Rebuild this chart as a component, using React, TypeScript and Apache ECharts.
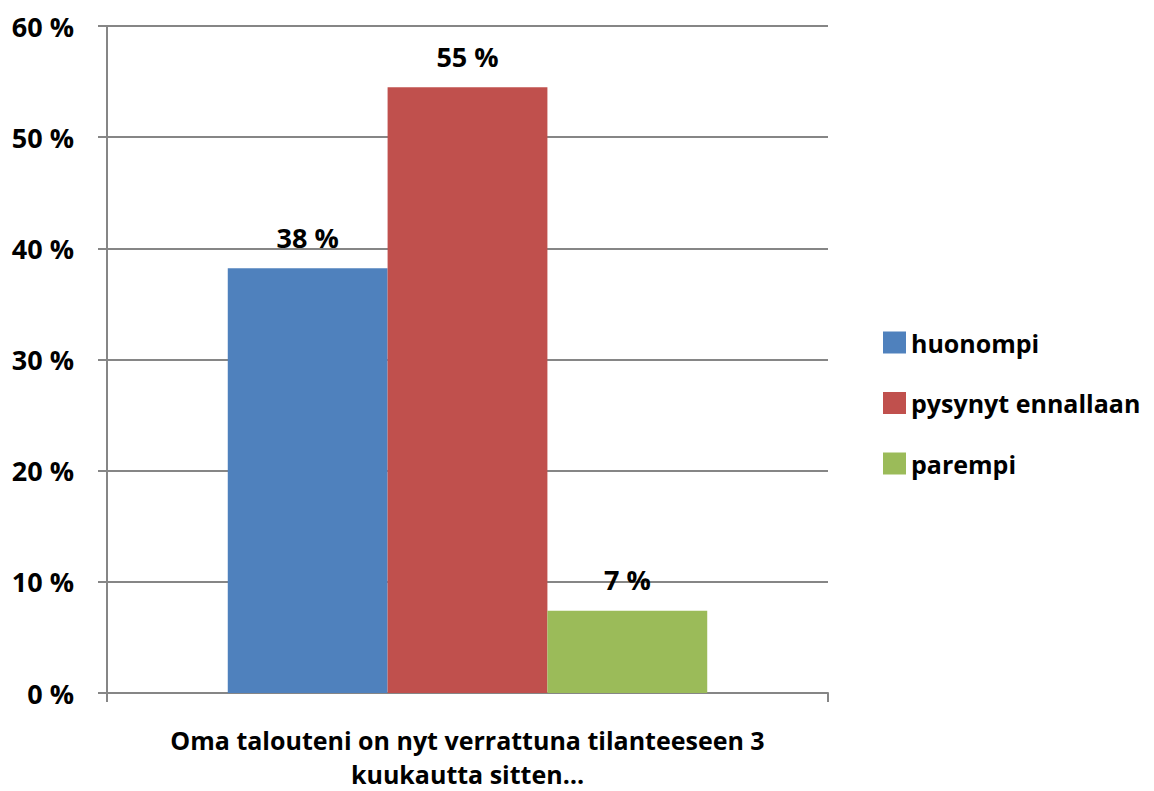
import React, { useEffect, useRef } from "react";
import * as echarts from "echarts";

const categories = ["Oma talouteni on nyt verrattuna tilanteeseen 3\nkuukautta sitten…"];
const seriesNames = ["huonompi", "pysynyt ennallaan", "parempi"];
const seriesValues = [[38.2], [54.5], [7.4]];
const seriesColors = ["#4F81BD", "#C0504D", "#9BBB59"];
const yTicks = { min: 0, max: 60, interval: 10 };

const FONT = "Open Sans";
const FS = 27;

export default function App() {
  const ref = useRef<HTMLDivElement>(null);
  useEffect(() => {
    if (!ref.current) return;
    const chart = echarts.init(ref.current, null, { renderer: "svg" });
    chart.setOption({
      animation: false,
      backgroundColor: "#ffffff",
      textStyle: { fontFamily: FONT },
      grid: { left: 107, right: 326, top: 26, bottom: 98, containLabel: false },
      legend: {
        orient: "vertical",
        left: 878,
        top: 325,
        itemWidth: 23,
        itemHeight: 22,
        itemGap: 35.5,
        icon: "rect",
        data: seriesNames,
        textStyle: { fontFamily: FONT, fontWeight: "bold", fontSize: 25, lineHeight: 22, color: "#000" },
      },
      xAxis: {
        type: "category",
        data: categories,
        axisLine: { lineStyle: { color: "#868686", width: 2 } },
        axisTick: { show: true, length: 9, lineStyle: { color: "#868686", width: 2 } },
        axisLabel: {
          fontFamily: FONT,
          fontWeight: "bold",
          fontSize: 25,
          color: "#000",
          lineHeight: 34,
          margin: 30,
          align: "center",
        },
      },
      yAxis: {
        type: "value",
        min: yTicks.min,
        max: yTicks.max,
        interval: yTicks.interval,
        axisLine: { show: true, lineStyle: { color: "#868686", width: 2 } },
        axisTick: { show: true, length: 9, lineStyle: { color: "#868686", width: 2 } },
        splitLine: { lineStyle: { color: "#868686", width: 2 } },
        axisLabel: {
          formatter: "{value} %",
          fontFamily: FONT,
          fontWeight: "bold",
          fontSize: FS,
          color: "#000",
          margin: 33,
        },
      },
      series: seriesNames.map((name, i) => ({
        name,
        type: "bar",
        data: seriesValues[i],
        barGap: "0%",
        barCategoryGap: "33.5%",
        itemStyle: { color: seriesColors[i] },
        label: {
          show: true,
          position: "top",
          distance: 18,
          lineHeight: 26,
          formatter: (p: any) => Math.round(p.value) + " %",
          fontFamily: FONT,
          fontWeight: "bold",
          fontSize: FS,
          color: "#000",
        },
      })),
    });
    return () => chart.dispose();
  }, []);
  return (
    <div
      ref={ref}
      style={{ position: "fixed", left: 0, top: 0, width: 1154, height: 791 }}
    />
  );
}
